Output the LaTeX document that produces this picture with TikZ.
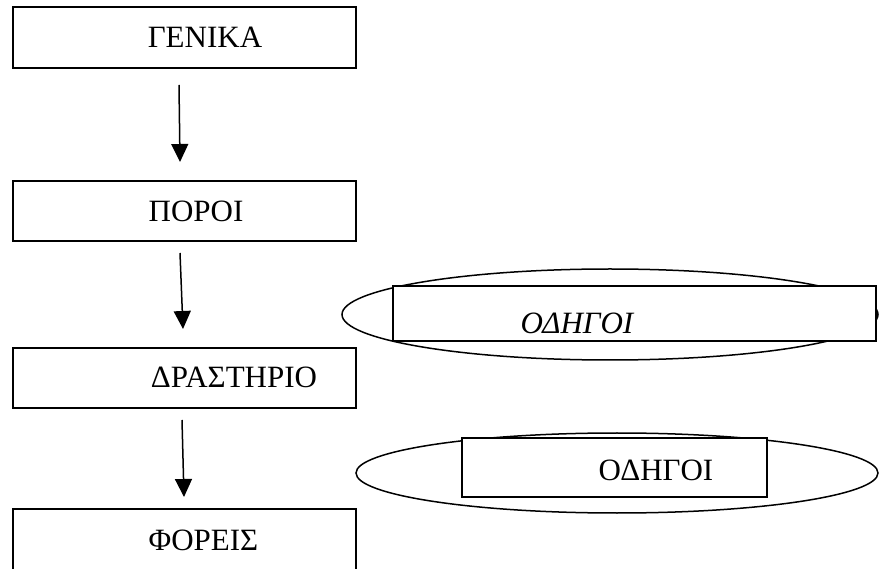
\documentclass[tikz,border=0pt]{standalone}
\usepackage{fontspec}
\setmainfont{Liberation Serif}
\usetikzlibrary{arrows.meta,shapes.geometric}
\tikzset{
  box/.style={draw=black, line width=1.5pt, fill=white, rectangle, inner sep=0pt},
  ell/.style={draw=black, line width=1.5pt, ellipse, inner sep=0pt},
  lbl/.style={anchor=base, inner sep=0pt, font=\fontsize{31}{36}\selectfont},
  arr/.style={line width=1.5pt, -{Triangle[width=17pt,length=18pt]}}
}
\begin{document}
\begin{tikzpicture}[x=1pt,y=-1pt]
\useasboundingbox (0,0) rectangle (879,569);
\clip (0,0) rectangle (879,569);
\fill[white] (0,0) rectangle (879,569);
% left column boxes
\node[box, minimum width=343pt, minimum height=61pt] (b1) at (184.5,37.5) {};
\node[box, minimum width=343pt, minimum height=60pt] (b2) at (184.5,211) {};
\node[box, minimum width=343pt, minimum height=60pt] (b3) at (184.5,378) {};
\node[box, minimum width=343pt, minimum height=70pt] (b4) at (184.5,544) {};
\node[lbl] (t1) at (205,48) {ΓΕΝΙΚΑ};
\node[lbl] (t2) at (196,222) {ΠΟΡΟΙ};
\node[lbl] (t3) at (234,388) {ΔΡΑΣΤΗΡΙΟ};
\node[lbl] (t4) at (203.5,550) {ΦΟΡΕΙΣ};
% arrows
\coordinate (a1s) at (179,85);  \coordinate (a1e) at (180,162);
\coordinate (a2s) at (180,253); \coordinate (a2e) at (183,329);
\coordinate (a3s) at (182,420); \coordinate (a3e) at (184,497);
\draw[arr] (a1s) -- (a1e);
\draw[arr] (a2s) -- (a2e);
\draw[arr] (a3s) -- (a3e);
% right side ellipses with boxes
\node[ell, minimum width=536pt, minimum height=91pt] (e1) at (610,314.5) {};
\node[box, minimum width=483pt, minimum height=55pt] (r1) at (634.5,313.5) {};
\node[lbl, font=\fontsize{31}{36}\selectfont\itshape] (o1) at (577,334) {ΟΔΗΓΟΙ};
\node[ell, minimum width=522pt, minimum height=80pt] (e2) at (617,473) {};
\node[box, minimum width=305pt, minimum height=59pt] (r2) at (614.5,467.5) {};
\node[lbl] (o2) at (656,480) {ΟΔΗΓΟΙ};
\end{tikzpicture}
\end{document}
